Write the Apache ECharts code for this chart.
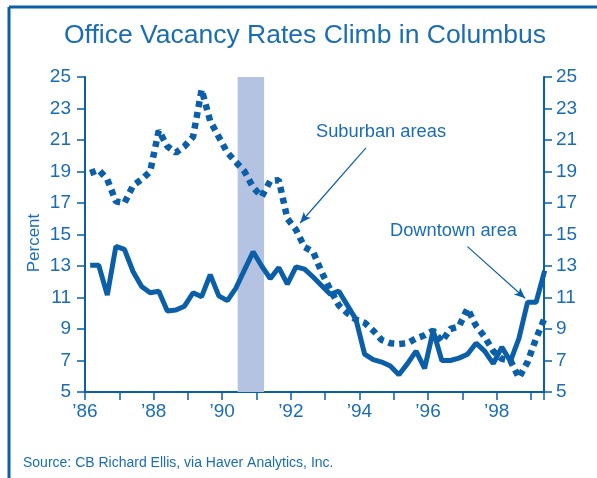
<!DOCTYPE html>
<html>
<head>
<meta charset="utf-8">
<script src="https://cdn.jsdelivr.net/npm/echarts@6/dist/echarts.min.js"></script>
<style>
html,body{margin:0;padding:0;background:#fff;}
#chart{width:597px;height:478px;}
</style>
</head>
<body>
<div id="chart"></div>
<script>
// Quarterly data, 1986Q1 .. 1999Q2
const firstQuarter = 1986.15;
const downtown = [13.05,13.05,11.15,14.25,14.05,12.65,11.7,11.3,11.4,10.15,10.2,10.45,11.3,11.05,12.45,11.1,10.8,11.6,12.75,13.9,13.0,12.2,12.9,11.85,12.95,12.8,12.3,11.75,11.2,11.4,10.5,9.6,7.4,7.05,6.9,6.65,6.1,6.8,7.6,6.5,8.9,7.0,7.0,7.15,7.4,8.1,7.6,6.8,7.85,6.95,8.4,10.7,10.7,12.7];
const suburban = [18.9,19.1,18.5,17.1,17.0,18.1,18.5,19.0,21.6,20.6,20.2,20.6,21.2,24.2,22.2,21.2,20.2,19.6,19.0,18.0,17.4,18.4,18.45,16.0,15.3,14.2,13.9,12.6,11.5,10.5,10.0,9.6,9.4,8.9,8.3,8.1,8.05,8.1,8.4,8.6,8.9,8.2,9.0,9.15,10.3,9.2,8.5,7.6,7.1,7.0,5.9,6.9,8.4,9.7];
const yTicks = [5,7,9,11,13,15,17,19,21,23,25];
const xLabelYears = [1986,1988,1990,1992,1994,1996,1998];
const recession = [1990.45, 1991.22];
const suburbanArrow = [[1994.19, 20.5],[1992.27, 15.73]];
const downtownArrow = [[1997.15, 14.23],[1998.83, 10.95]];

const BLUE = '#0b5fa8';
const TEXT = '#1a6db5';
const FONT = 'Liberation Sans, Arial, sans-serif';

const toPairs = arr => arr.map((v, i) => [firstQuarter + i * 0.25, v]);

const chart = echarts.init(document.getElementById('chart'), null, {renderer: 'canvas'});
const yAxisCommon = {
  type: 'value', min: yTicks[0], max: yTicks[yTicks.length - 1], interval: 2,
  splitLine: {show: false},
  axisLine: {show: true, lineStyle: {color: BLUE, width: 2}},
  axisTick: {show: true, length: 8, lineStyle: {color: BLUE, width: 1.5}},
  axisLabel: {color: TEXT, fontSize: 19, fontFamily: FONT}
};
chart.setOption({
  animation: false,
  grid: {left: 85, right: 53, top: 77, bottom: 86},
  xAxis: {
    type: 'value', min: 1986, max: 1999.38, interval: 1,
    splitLine: {show: false},
    axisLine: {lineStyle: {color: BLUE, width: 2}},
    axisTick: {length: 8, lineStyle: {color: BLUE, width: 1.5}},
    axisLabel: {
      color: TEXT, fontSize: 19, fontFamily: FONT, margin: 10,
      formatter: v => xLabelYears.includes(v) ? '\u2019' + String(v).slice(2) : ''
    }
  },
  yAxis: [
    Object.assign({position: 'left'}, yAxisCommon, {axisLabel: Object.assign({}, yAxisCommon.axisLabel, {margin: 14})}),
    Object.assign({position: 'right'}, yAxisCommon, {axisLabel: Object.assign({}, yAxisCommon.axisLabel, {margin: 12})})
  ],
  series: [
    {
      type: 'line', data: toPairs(suburban), showSymbol: false,
      lineStyle: {color: BLUE, width: 6.5, type: [6, 5], cap: 'butt'},
      markLine: {
        silent: true, symbol: ['none', 'arrow'], symbolSize: [7, 11],
        label: {show: false},
        lineStyle: {color: BLUE, width: 1.2, type: 'solid'},
        data: [
          [{coord: suburbanArrow[0]}, {coord: suburbanArrow[1]}],
          [{coord: downtownArrow[0]}, {coord: downtownArrow[1]}]
        ]
      }
    },
    {
      type: 'line', data: toPairs(downtown), showSymbol: false,
      lineStyle: {color: BLUE, width: 5},
      markArea: {
        silent: true,
        itemStyle: {color: '#b5c3e3'},
        data: [[{xAxis: recession[0]}, {xAxis: recession[1]}]]
      },
      z: 1
    }
  ],
  graphic: [
    {type: 'line', shape: {x1: 9, y1: 7, x2: 597, y2: 7}, style: {stroke: BLUE, lineWidth: 3}},
    {type: 'line', shape: {x1: 9, y1: 7, x2: 9, y2: 478}, style: {stroke: BLUE, lineWidth: 3}},
    {type: 'text', x: 305, y: 36, style: {text: 'Office Vacancy Rates Climb in Columbus', fill: TEXT, font: '26.5px ' + FONT, textAlign: 'center', textVerticalAlign: 'middle'}},
    {type: 'text', x: 34, y: 243, rotation: Math.PI / 2, style: {text: 'Percent', fill: TEXT, font: '17px ' + FONT, textAlign: 'center', textVerticalAlign: 'middle'}},
    {type: 'text', x: 316, y: 132, style: {text: 'Suburban areas', fill: TEXT, font: '18.3px ' + FONT, textVerticalAlign: 'middle'}},
    {type: 'text', x: 390, y: 231, style: {text: 'Downtown area', fill: TEXT, font: '18.3px ' + FONT, textVerticalAlign: 'middle'}},
    {type: 'text', x: 23, y: 463, style: {text: 'Source: CB Richard Ellis, via Haver Analytics, Inc.', fill: TEXT, font: '14px ' + FONT, textVerticalAlign: 'middle'}}
  ]
});
</script>
</body>
</html>
